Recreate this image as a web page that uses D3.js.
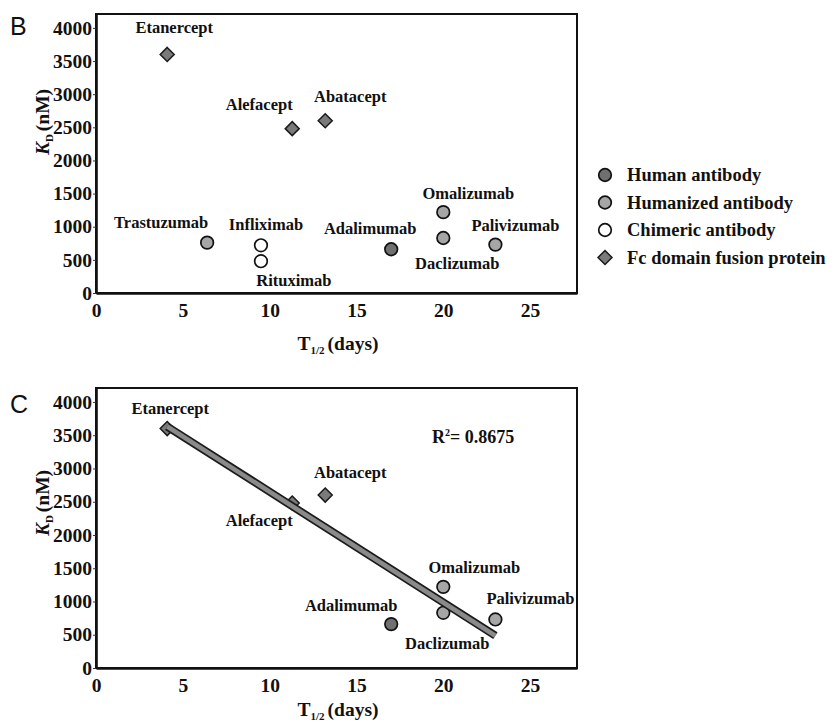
<!DOCTYPE html>
<html>
<head>
<meta charset="utf-8">
<script src="https://cdn.jsdelivr.net/npm/d3@7"></script>
<style>
  body { margin: 0; background: #fff; }
  .serif-text { font-family: 'Liberation Serif', 'Times New Roman', Times, serif; font-weight: bold; }
</style>
</head>
<body>
<svg id="chart" width="836" height="726"></svg>
<script>
// Therapeutic proteins: serum half-life vs. binding affinity
const drugs        = ["Etanercept", "Alefacept", "Abatacept", "Trastuzumab", "Infliximab",
                      "Rituximab", "Adalimumab", "Omalizumab", "Daclizumab", "Palivizumab"];
const halfLifeDays = [4.1, 11.3, 13.2, 6.4, 9.5, 9.5, 17.0, 20.0, 20.0, 23.0];
const kdNM         = [3600, 2480, 2600, 760, 720, 480, 660, 1220, 830, 730];
const drugClass    = ["fc", "fc", "fc", "humanized", "chimeric",
                      "chimeric", "human", "humanized", "humanized", "humanized"];

const classKeys  = ["human", "humanized", "chimeric", "fc"];
const classNames = ["Human antibody", "Humanized antibody", "Chimeric antibody", "Fc domain fusion protein"];

const xTicks = [0, 5, 10, 15, 20, 25];
const yTicks = [0, 500, 1000, 1500, 2000, 2500, 3000, 3500, 4000];

// Drugs used in the regression panel
const fitDrugs = ["Etanercept", "Alefacept", "Abatacept", "Adalimumab", "Omalizumab", "Daclizumab", "Palivizumab"];
const rSquaredLabel = "0.8675";

// ---- layout / styling ----
const SERIF = "'Liberation Serif','Times New Roman',Times,serif";
const SANS = "'Liberation Sans',Arial,sans-serif";
const fills = { human: "#707070", humanized: "#a6a6a6", chimeric: "#ffffff", fc: "#7a7a7a" };

// label offsets (pixels from the marker) per panel
const labelOffsetB = {
  Etanercept: [7, -27], Alefacept: [-33, -24], Abatacept: [25, -24], Trastuzumab: [-46, -20],
  Infliximab: [5, -21], Rituximab: [33, 19], Adalimumab: [-21, -21], Omalizumab: [25, -19],
  Daclizumab: [14, 25], Palivizumab: [20, -19]
};
const labelOffsetC = {
  Etanercept: [3, -20], Alefacept: [-33, 17], Abatacept: [25, -23], Adalimumab: [-40, -19],
  Omalizumab: [31, -20], Daclizumab: [4, 30], Palivizumab: [35, -21]
};

const points = drugs.map((d, i) => ({ name: d, x: halfLifeDays[i], y: kdNM[i], cls: drugClass[i] }));

const svg = d3.select("#chart");

function drawMarker(sel, cls) {
  if (cls === "fc") {
    sel.append("path")
      .attr("d", "M0,-7L7,0L0,7L-7,0Z")
      .attr("fill", fills.fc)
      .attr("stroke", "#1a1a1a")
      .attr("stroke-width", 1.5);
  } else {
    sel.append("circle")
      .attr("r", 6.3)
      .attr("fill", fills[cls])
      .attr("stroke", "#111")
      .attr("stroke-width", 1.7);
  }
}

function serifText(sel, size) {
  return sel.attr("class", "serif-text")
    .style("font-family", SERIF).style("font-weight", "bold")
    .style("font-size", size + "px").attr("fill", "#111");
}

function drawPanel(cfg) {
  const left = 96, right = 577;
  const x = d3.scaleLinear().domain([0, 27.7]).range([left, right]);
  const y = d3.scaleLinear().domain([0, 4210]).range([cfg.bottom, cfg.top]);
  const g = svg.append("g");

  // frame
  g.append("rect")
    .attr("x", left).attr("y", cfg.top)
    .attr("width", right - left).attr("height", cfg.bottom - cfg.top)
    .attr("fill", "none").attr("stroke", "#111").attr("stroke-width", 2);

  // axes
  const fmt = d3.format("d");
  const ax = g.append("g")
    .attr("transform", `translate(0,${cfg.bottom})`)
    .call(d3.axisBottom(x).tickValues(xTicks).tickFormat(fmt).tickSize(0).tickPadding(10).tickSizeOuter(0));
  const ay = g.append("g")
    .attr("transform", `translate(${left},0)`)
    .call(d3.axisLeft(y).tickValues(yTicks).tickFormat(fmt).tickSize(3).tickPadding(1).tickSizeOuter(0));
  [ax, ay].forEach(a => {
    a.attr("font-family", null).attr("font-size", null);
    a.select(".domain").attr("stroke", "#111").attr("stroke-width", 2.6);
    a.selectAll(".tick line").attr("stroke", "#333").attr("stroke-width", 1);
    serifText(a.selectAll("text"), 19.5);
  });

  const pts = points.filter(p => cfg.names.includes(p.name));

  // markers
  pts.forEach(p => {
    const m = g.append("g").attr("transform", `translate(${x(p.x)},${y(p.y)})`);
    drawMarker(m, p.cls);
  });

  // least-squares regression band
  if (cfg.fit) {
    const mx = d3.mean(pts, p => p.x), my = d3.mean(pts, p => p.y);
    const sxy = d3.sum(pts, p => (p.x - mx) * (p.y - my));
    const sxx = d3.sum(pts, p => (p.x - mx) ** 2);
    const slope = sxy / sxx, intercept = my - slope * mx;
    const ext = d3.extent(pts, p => p.x);
    const lineData = ext.map(v => [x(v), y(intercept + slope * v)]);
    const line = d3.line();
    g.append("path").attr("d", line(lineData))
      .attr("stroke", "#1a1a1a").attr("stroke-width", 8).attr("fill", "none");
    g.append("path").attr("d", line(lineData))
      .attr("stroke", "#8a8a8a").attr("stroke-width", 4.6).attr("fill", "none");

    const r2 = serifText(g.append("text"), 18)
      .attr("x", 432).attr("y", cfg.top + 55);
    r2.append("tspan").text("R");
    r2.append("tspan").style("font-size", "10px").attr("dy", -7).text("2");
    r2.append("tspan").attr("dy", 7).text("= " + rSquaredLabel);
  }

  // point labels
  pts.forEach(p => {
    const off = cfg.offsets[p.name];
    serifText(g.append("text"), 16.5)
      .attr("x", x(p.x) + off[0]).attr("y", y(p.y) + off[1])
      .attr("dy", "0.35em")
      .attr("text-anchor", "middle")
      .text(p.name);
  });

  // y title: K_D (nM)
  const yt = serifText(g.append("text"), 19.5)
    .attr("transform", `translate(49,${cfg.yTitleY}) rotate(-90)`)
    .attr("text-anchor", "middle");
  yt.append("tspan").style("font-style", "italic").text("K");
  yt.append("tspan").style("font-size", "11px").attr("dy", 4).text("D");
  yt.append("tspan").attr("dy", -4).attr("dx", 3).text("(nM)");

  // x title: T1/2 (days)
  const xt = serifText(g.append("text"), 19.5)
    .attr("x", 338).attr("y", cfg.xTitleY)
    .attr("text-anchor", "middle");
  xt.append("tspan").text("T");
  xt.append("tspan").style("font-size", "11px").attr("dy", 4).text("1/2");
  xt.append("tspan").attr("dy", -4).attr("dx", 3).text("(days)");

  // panel letter
  svg.append("text")
    .attr("x", 10).attr("y", cfg.letterY)
    .style("font-family", SANS).style("font-size", "25px").attr("fill", "#111")
    .text(cfg.letter);
}

drawPanel({
  top: 14, bottom: 293, names: drugs, offsets: labelOffsetB, fit: false,
  letter: "B", letterY: 35, yTitleY: 122, xTitleY: 350
});
drawPanel({
  top: 388, bottom: 668, names: fitDrugs, offsets: labelOffsetC, fit: true,
  letter: "C", letterY: 413, yTitleY: 503, xTitleY: 716
});

// legend
const legend = svg.append("g");
classKeys.forEach((k, i) => {
  const row = legend.append("g").attr("transform", `translate(605,${175 + i * 27.5})`);
  drawMarker(row, k);
  serifText(row.append("text"), 18.5)
    .attr("x", 22).attr("dy", "0.35em")
    .text(classNames[i]);
});
</script>
</body>
</html>
